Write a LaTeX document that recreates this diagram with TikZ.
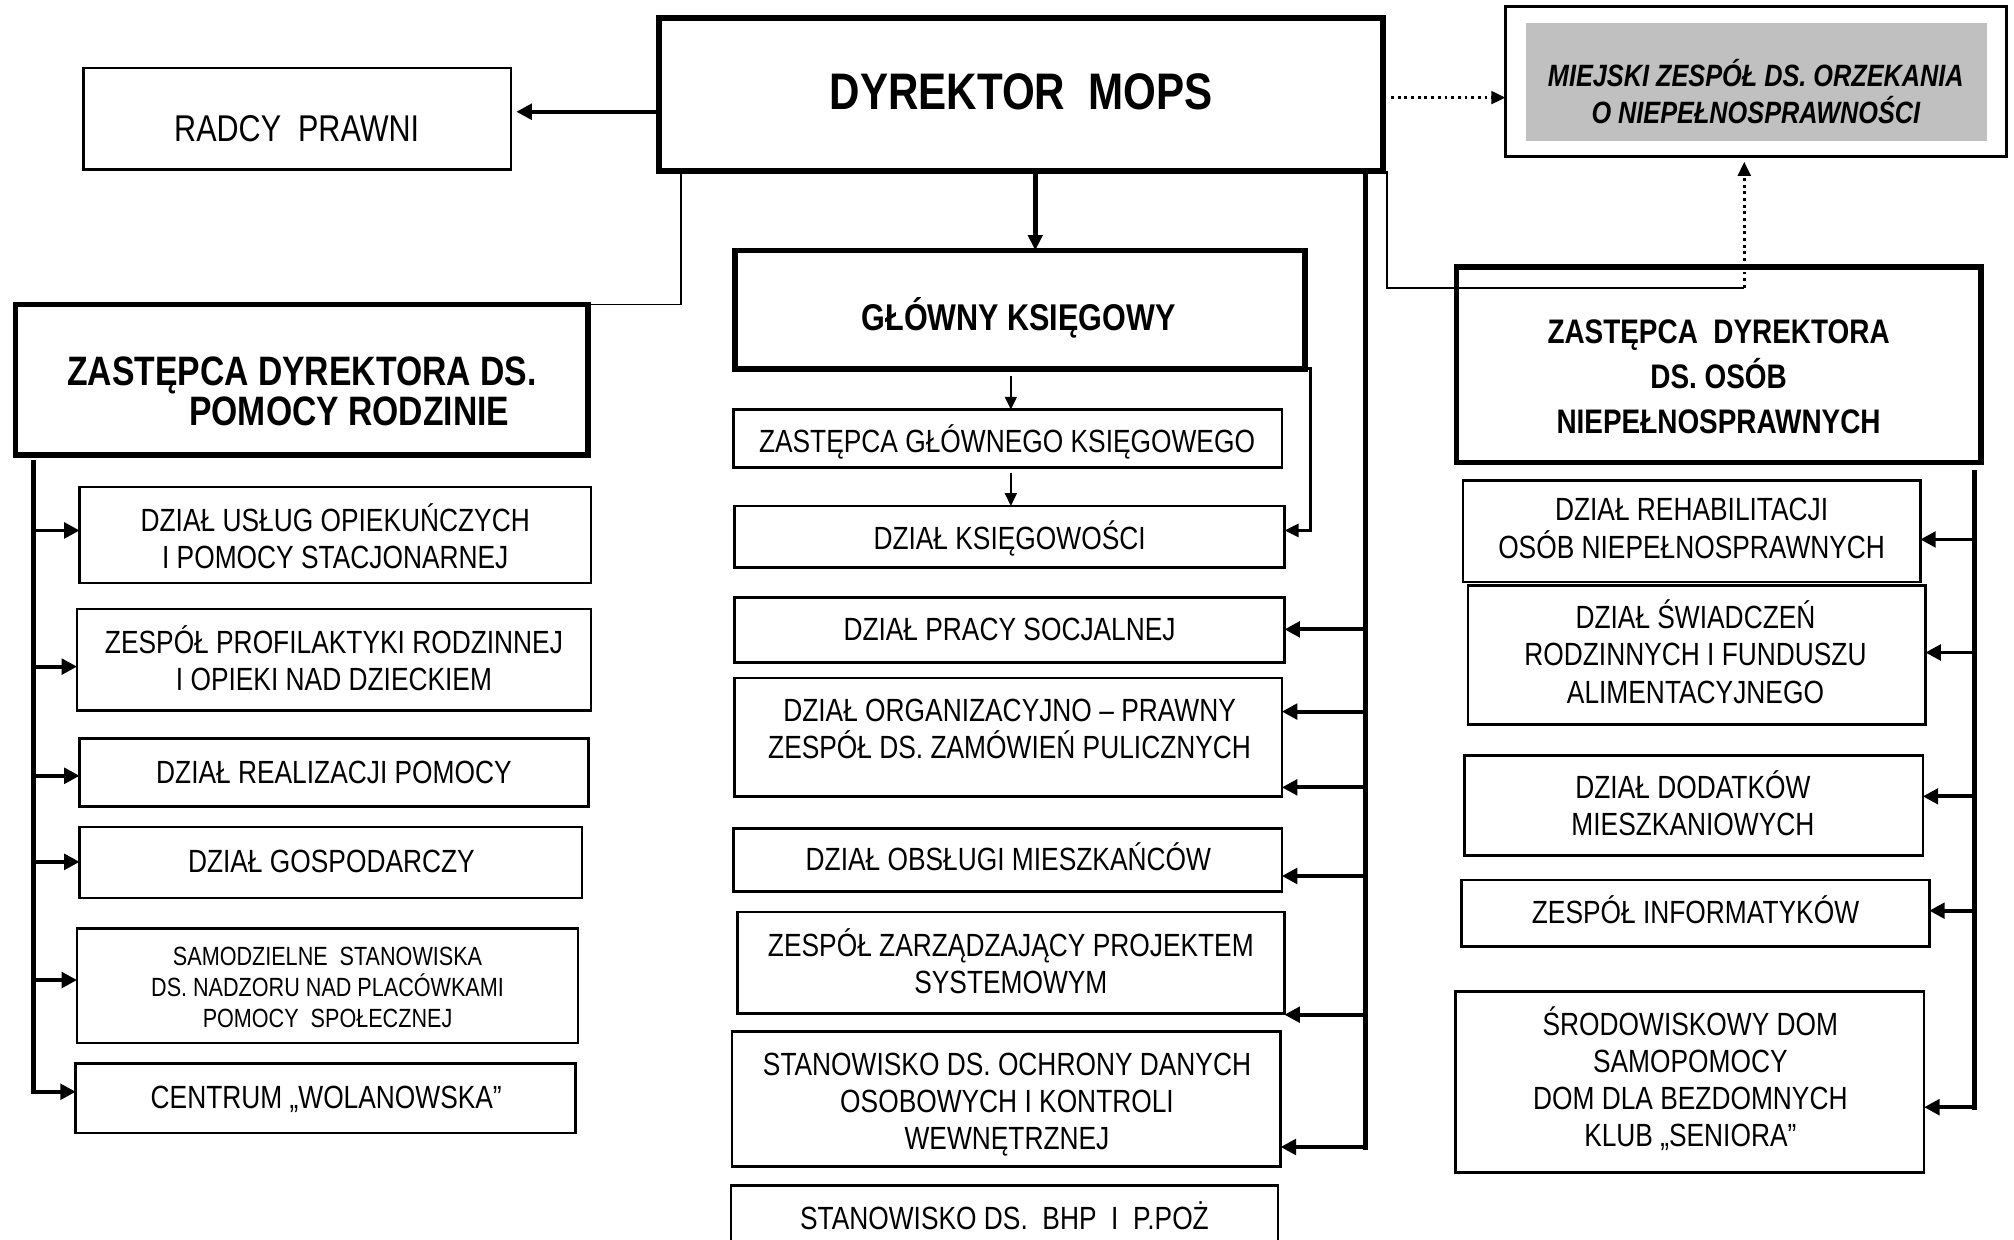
\documentclass[tikz,border=0pt]{standalone}
\usepackage{fontspec}
\setmainfont{Liberation Sans}[FakeStretch=0.82]
\usetikzlibrary{arrows.meta,calc}
\definecolor{mzgray}{HTML}{C0C0C0}
\newcommand\tstrut{\rule[-0.22em]{0pt}{1.16em}}
\newcommand\mkbox[6]{\node[#6, minimum width={(#4-#2)*1pt}, minimum height={(#5-#3)*1pt}] (#1) at ({(#2+#4)/2},{(#3+#5)/2}) {};}
\begin{document}
\begin{tikzpicture}[x=1pt,y=-1pt,
  every node/.style={inner sep=0pt,outer sep=0pt},
  thickbox/.style={draw, line width=4.5pt},
  thinbox/.style={draw, line width=2pt},
  txt/.style={align=center, font=\fontsize{25}{29}\selectfont, execute at begin node=\tstrut, execute at end node=\tstrut},
  arr/.style={line width=3pt, -{Triangle[length=12pt,width=12pt]}},
  arrs/.style={line width=2pt, -{Triangle[length=10pt,width=9pt]}},
  trunk/.style={line width=4pt, line cap=rect},
  thinl/.style={line width=1.3pt},
  dotl/.style={line width=2.2pt, dash pattern=on 2.2pt off 3pt, -{Triangle[length=11pt,width=10pt]}}]
\useasboundingbox (0,0) rectangle (1568,965);
\clip (0,0) rectangle (1568,965);
\fill[white] (0,0) rectangle (1568,965);

% top row
\mkbox{dir}{513}{14}{1077}{133}{thickbox}
\node[txt, font=\bfseries\fontsize{40}{46}\selectfont] (dirt) at (795,71) {DYREKTOR\ \ MOPS};
\mkbox{rad}{65}{53}{398}{132}{thinbox}
\node[txt, font=\fontsize{29}{33}\selectfont] (radt) at (231,100) {RADCY\ \ PRAWNI};
\mkbox{mzo}{1172}{5}{1562}{122}{thinbox}
\mkbox{mzoin}{1188}{18}{1547}{110}{fill=mzgray}
\node[txt, font=\bfseries\itshape\fontsize{24}{29}\selectfont] (mzot) at (1367,74) {MIEJSKI ZESPÓŁ DS. ORZEKANIA\\O NIEPEŁNOSPRAWNOŚCI};

% centre column
\mkbox{gk}{572}{195}{1016}{287}{thickbox}
\node[txt, font=\bfseries\fontsize{29}{33}\selectfont] (gkt) at (793,247) {GŁÓWNY KSIĘGOWY};
\mkbox{zgk}{571}{319}{998}{364}{thinbox}
\node[txt] (zgkt) at (784,343) {ZASTĘPCA GŁÓWNEGO KSIĘGOWEGO};
\mkbox{dk}{572}{394}{1000}{442}{thinbox}
\node[txt] (dkt) at (786,419) {DZIAŁ KSIĘGOWOŚCI};
\mkbox{dps}{572}{465}{1000}{516}{thinbox}
\node[txt] (dpst) at (786,490) {DZIAŁ PRACY SOCJALNEJ};
\mkbox{dop}{572}{528}{998}{620}{thinbox}
\node[txt] (dopt) at (786,570) {DZIAŁ ORGANIZACYJNO – PRAWNY\\ZESPÓŁ DS. ZAMÓWIEŃ PULICZNYCH};
\mkbox{dom}{571}{645}{998}{694}{thinbox}
\node[txt] (domt) at (785,669) {DZIAŁ OBSŁUGI MIESZKAŃCÓW};
\mkbox{zzp}{574}{710}{1000}{789}{thinbox}
\node[txt] (zzpt) at (787,751) {ZESPÓŁ ZARZĄDZAJĄCY PROJEKTEM\\SYSTEMOWYM};
\mkbox{sod}{570}{803}{997}{908}{thinbox}
\node[txt] (sodt) at (784,860) {STANOWISKO DS. OCHRONY DANYCH\\OSOBOWYCH I KONTROLI\\WEWNĘTRZNEJ};
\mkbox{bhp}{569}{923}{995}{995}{thinbox}
\node[txt] (bhpt) at (782,948) {STANOWISKO DS.\ \ BHP\ \ I\ \ P.POŻ};

% left column
\mkbox{zdr}{12}{237}{458}{354}{thickbox}
\node[txt, font=\bfseries\fontsize{32}{31}\selectfont] (zdrt) at (235,308) {ZASTĘPCA DYREKTORA DS.\\\hspace*{74pt}POMOCY RODZINIE};
\mkbox{l1}{62}{379}{460}{454}{thinbox}
\node[txt] (l1t) at (261,420) {DZIAŁ USŁUG OPIEKUŃCZYCH\\I POMOCY STACJONARNEJ};
\mkbox{l2}{60}{474}{460}{553}{thinbox}
\node[txt] (l2t) at (260,515) {ZESPÓŁ PROFILAKTYKI RODZINNEJ\\I OPIEKI NAD DZIECKIEM};
\mkbox{l3}{62}{575}{458}{628}{thinbox}
\node[txt] (l3t) at (260,601) {DZIAŁ REALIZACJI POMOCY};
\mkbox{l4}{62}{644}{453}{699}{thinbox}
\node[txt] (l4t) at (258,670) {DZIAŁ GOSPODARCZY};
\mkbox{l5}{60}{723}{450}{812}{thinbox}
\node[txt, font=\fontsize{20.5}{24}\selectfont] (l5t) at (255,771) {SAMODZIELNE\ \ STANOWISKA\\DS. NADZORU NAD PLACÓWKAMI\\POMOCY\ \ SPOŁECZNEJ};
\mkbox{l6}{59}{828}{448}{882}{thinbox}
\node[txt] (l6t) at (254,854) {CENTRUM „WOLANOWSKA”};

% right column
\mkbox{zdon}{1134}{208}{1542}{360}{thickbox}
\node[txt, font=\bfseries\fontsize{26.5}{35}\selectfont] (zdont) at (1338,296) {ZASTĘPCA\ \ DYREKTORA\\DS. OSÓB\\NIEPEŁNOSPRAWNYCH};
\mkbox{r1}{1139}{374}{1495}{453}{thinbox}
\node[txt] (r1t) at (1317,414) {DZIAŁ REHABILITACJI\\OSÓB NIEPEŁNOSPRAWNYCH};
\mkbox{r2}{1143}{456}{1499}{564}{thinbox}
\node[txt] (r2t) at (1320,510) {DZIAŁ ŚWIADCZEŃ\\RODZINNYCH I FUNDUSZU\\ALIMENTACYJNEGO};
\mkbox{r3}{1140}{588}{1497}{666}{thinbox}
\node[txt] (r3t) at (1318,628) {DZIAŁ DODATKÓW\\MIESZKANIOWYCH};
\mkbox{r4}{1138}{685}{1502}{737}{thinbox}
\node[txt] (r4t) at (1320,710) {ZESPÓŁ INFORMATYKÓW};
\mkbox{r5}{1133}{772}{1498}{913}{thinbox}
\node[txt] (r5t) at (1316,841) {ŚRODOWISKOWY DOM\\SAMOPOMOCY\\DOM DLA BEZDOMNYCH\\KLUB „SENIORA”};

% connectors from the director
\draw[arr, shorten >=4pt] (dir.west |- 0,87) -- (rad.east |- 0,87);
\draw[dotl] ($(dir.east |- 0,76)+(6,0)$) -- (mzo.west |- 0,76);
\draw[thinl] (dir.south -| 530,0) |- (zdr.north east);
\coordinate (zk) at (1358,224);
\draw[thinl] (dir.south -| 1080,0) |- (zk);
\draw[dotl] (zk) -- ($(mzo.south -| zk)+(0,4)$);
\draw[line width=3.5pt, -{Triangle[length=12pt,width=11pt]}] (dir.south -| 806,0) -- (gk.north -| 806,0);

% centre trunk
\coordinate (tc) at (1063,0);
\draw[trunk] (dir.south -| tc) -- (tc |- 0,893);
\draw[arr] (tc |- 0,490) -- (dps.east |- 0,490);
\draw[arr] (tc |- 0,554) -- (dop.east |- 0,554);
\draw[arr] (tc |- 0,613) -- (dop.east |- 0,613);
\draw[arr] (tc |- 0,682) -- (dom.east |- 0,682);
\draw[arr] (tc |- 0,790) -- (zzp.east |- 0,790);
\draw[arr] (tc |- 0,893) -- (sod.east |- 0,893);

% chief accountant links
\draw[line width=2.5pt, -{Triangle[length=11pt,width=10pt]}] (gk.south east) -- ++(4,0) |- (dk.east |- 0,413);
\draw[arrs] ($(gk.south -| 787,0)+(0,6)$) -- (zgk.north -| 787,0);
\draw[arrs] ($(zgk.south -| 787,0)+(0,4)$) -- (dk.north -| 787,0);

% left trunk
\coordinate (lc) at (26,0);
\draw[trunk] ($(zdr.south -| lc)+(0,6)$) -- (lc |- 0,850);
\draw[arr] (lc |- 0,413) -- (l1.west |- 0,413);
\draw[arr] (lc |- 0,519) -- (l2.west |- 0,519);
\draw[arr] (lc |- 0,604) -- (l3.west |- 0,604);
\draw[arr] (lc |- 0,671) -- (l4.west |- 0,671);
\draw[arr] (lc |- 0,763) -- (l5.west |- 0,763);
\draw[arr] (lc |- 0,850) -- (l6.west |- 0,850);

% right trunk
\coordinate (rc) at (1537,0);
\draw[trunk] ($(zdon.south -| rc)+(0,8)$) -- (rc |- 0,862);
\draw[arr] (rc |- 0,420) -- (r1.east |- 0,420);
\draw[arr] (rc |- 0,508) -- (r2.east |- 0,508);
\draw[arr] (rc |- 0,620) -- (r3.east |- 0,620);
\draw[arr] (rc |- 0,709) -- (r4.east |- 0,709);
\draw[arr] (rc |- 0,862) -- (r5.east |- 0,862);
\end{tikzpicture}
\end{document}
